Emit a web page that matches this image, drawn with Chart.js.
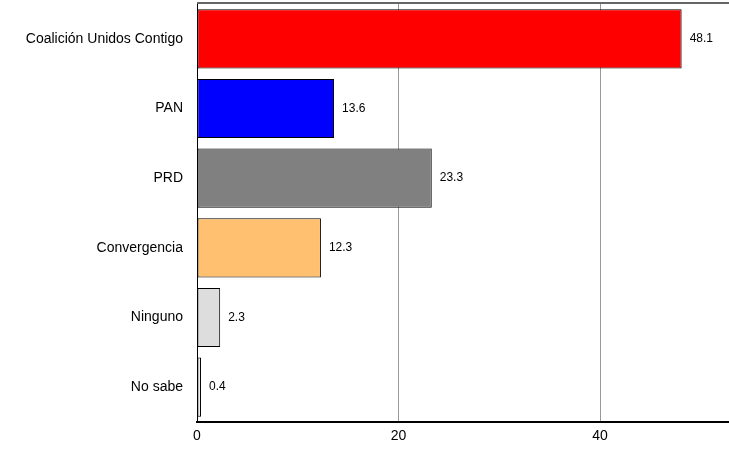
<!DOCTYPE html>
<html>
<head>
<meta charset="utf-8">
<script src="https://cdn.jsdelivr.net/npm/chart.js@4/dist/chart.umd.min.js"></script>
<style>
    html, body { margin: 0; padding: 0; background: #ffffff; }
    #wrap { width: 729px; height: 452px; position: relative; }
</style>
</head>
<body>
<div id="wrap"><canvas id="barChart"></canvas></div>
<script>
const categories = ["Coalición Unidos Contigo", "PAN", "PRD", "Convergencia", "Ninguno", "No sabe"];
const values = [48.1, 13.6, 23.3, 12.3, 2.3, 0.4];
const barColors = ["#ff0000", "#0000ff", "#808080", "#ffc170", "#dddddd", "#eeeeee"];
const xTicks = [0, 20, 40];

Chart.defaults.font.family = "'Liberation Sans', Arial, sans-serif";
Chart.defaults.font.size = 12;
Chart.defaults.color = "#000000";

// value labels to the right of each bar, plus the grey top line
const barLabels = {
    id: "barLabels",
    afterDatasetsDraw(chart) {
        const ctx = chart.ctx;
        const area = chart.chartArea;
        ctx.save();
        ctx.strokeStyle = "#666666";
        ctx.lineWidth = 2;
        ctx.beginPath();
        ctx.moveTo(area.left, area.top - 1);
        ctx.lineTo(area.right, area.top - 1);
        ctx.stroke();

        ctx.font = "12px 'Liberation Sans', Arial, sans-serif";
        ctx.fillStyle = "#000000";
        ctx.textAlign = "left";
        ctx.textBaseline = "middle";
        chart.getDatasetMeta(0).data.forEach((bar, i) => {
            ctx.fillText(values[i].toFixed(1), bar.x + 8, bar.y);
        });
        ctx.restore();
    }
};

new Chart(document.getElementById("barChart"), {
    type: "bar",
    data: {
        labels: categories,
        datasets: [{
            data: values,
            backgroundColor: barColors,
            borderColor: "#000000",
            borderWidth: 1,
            borderSkipped: false,
            barPercentage: 0.85,
            categoryPercentage: 1
        }]
    },
    options: {
        indexAxis: "y",
        responsive: true,
        maintainAspectRatio: false,
        animation: false,
        layout: {
            padding: { top: 4, right: 0, bottom: 0, left: 0 }
        },
        plugins: {
            legend: { display: false },
            tooltip: { enabled: false }
        },
        scales: {
            x: {
                min: 0,
                max: 52.8,
                afterBuildTicks: (axis) => {
                    axis.ticks = xTicks.map(v => ({ value: v }));
                },
                afterFit: (axis) => {
                    axis.height = 30;
                    axis.paddingLeft = 0;
                    axis.paddingRight = 0;
                },
                ticks: {
                    color: "#000000",
                    padding: 6,
                    maxRotation: 0,
                    font: { size: 14 }
                },
                grid: {
                    color: (c) => c.tick && c.tick.value === 0 ? "rgba(0,0,0,0)" : "#999999",
                    lineWidth: 1,
                    drawTicks: false
                },
                border: { color: "#000000", width: 2 }
            },
            y: {
                afterFit: (axis) => {
                    axis.width = 197;
                    axis.paddingTop = 0;
                    axis.paddingBottom = 0;
                },
                ticks: {
                    color: "#000000",
                    padding: 14,
                    font: { size: 14 }
                },
                grid: { display: false, drawTicks: false },
                border: { color: "#000000", width: 1 }
            }
        }
    },
    plugins: [barLabels]
});
</script>
</body>
</html>
